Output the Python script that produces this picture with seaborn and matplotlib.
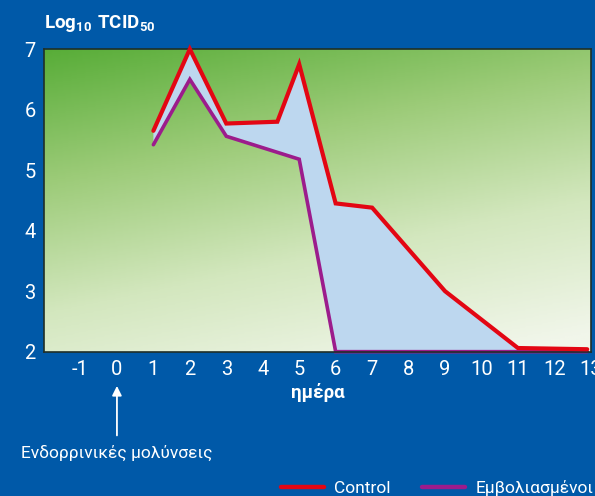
import matplotlib
matplotlib.use("Agg")
import matplotlib.pyplot as plt
from matplotlib.colors import LinearSegmentedColormap
import seaborn as sns
import numpy as np
import pandas as pd

# Δεδομένα (τιμές από το γράφημα)
control_days = [1, 2, 3, 4.4, 5, 6, 7, 9, 11, 12.9]
control_vals = [5.65, 7.0, 5.77, 5.8, 6.75, 4.45, 4.38, 3.0, 2.06, 2.04]
vacc_days = [1, 2, 3, 5, 6, 12.9]
vacc_vals = [5.42, 6.5, 5.56, 5.18, 2.0, 2.0]
x_ticks = list(range(-1, 14))
y_ticks = [2, 3, 4, 5, 6, 7]

BLUE = "#0059A8"
RED = "#E30613"
PURPLE = "#9C1C8C"
FILL = "#BDD7EF"

sns.set_style("white")
plt.rcParams["font.family"] = ["Roboto", "DejaVu Sans"]
plt.rcParams["mathtext.fontset"] = "custom"
plt.rcParams["mathtext.bf"] = "Roboto:bold"
plt.rcParams["mathtext.rm"] = "Roboto"

fig = plt.figure(figsize=(5.95, 4.96), dpi=100, facecolor=BLUE)
ax = fig.add_axes([0.074, 0.291, 0.919, 0.610])

# φόντο με διαβάθμιση
cmap = LinearSegmentedColormap.from_list("bg", ["#58AD38", "#9CCB78", "#D3E7BE", "#F1F6EA"])
vv, hh = np.mgrid[0:1:200j, 0:1:200j]
grad = 0.8 * vv + 0.3 * hh
ax.imshow(grad, cmap=cmap, extent=[-2, 13, 2, 7], aspect="auto", origin="upper",
          zorder=0, vmin=0, vmax=1.05)

# σκιασμένη περιοχή ανάμεσα στις δύο καμπύλες
px = control_days + vacc_days[::-1]
py = control_vals + vacc_vals[::-1]
ax.fill(px, py, color=FILL, zorder=1, lw=0)

df_c = pd.DataFrame({"day": control_days, "val": control_vals})
df_v = pd.DataFrame({"day": vacc_days, "val": vacc_vals})
sns.lineplot(data=df_c, x="day", y="val", color=RED, lw=3.0, label="Control",
             ax=ax, clip_on=False, zorder=3, solid_joinstyle="miter")
sns.lineplot(data=df_v, x="day", y="val", color=PURPLE, lw=2.6, label="Εμβολιασμένοι",
             ax=ax, clip_on=False, zorder=2, solid_joinstyle="miter")

ax.set_xlim(-2, 13)
ax.set_ylim(2, 7)
ax.set_xticks(x_ticks)
ax.set_xticklabels([str(t) for t in x_ticks])
ax.set_yticks(y_ticks)
ax.set_axisbelow(True)
ax.tick_params(direction="in", length=11, width=1.1, color="#243524",
               labelcolor="white", labelsize=14.5, pad=6)
for s in ax.spines.values():
    s.set_color("#1f2f28")
    s.set_linewidth(1.2)
    s.set_visible(True)

ax.set_xlabel("ημέρα", color="white", fontsize=13.5, fontweight="bold", labelpad=3)
ax.set_ylabel("")
ax.get_legend().remove()

fig.text(0.074, 0.953, r"$\mathbf{Log_{10}\ TCID_{50}}$", color="white", fontsize=13.5,
         ha="left", va="center")

# βέλος μόλυνσης στην ημέρα 0
ax.annotate("", xy=(0, 1.48), xytext=(0, 0.57), xycoords="data",
            annotation_clip=False,
            arrowprops=dict(arrowstyle="-|>", color="white", lw=1.3, mutation_scale=14))
ax.text(0, 0.32, "Ενδορρινικές μολύνσεις", color="white", fontsize=12.5,
        ha="center", va="center", clip_on=False)

handles, labels = ax.get_legend_handles_labels()
leg = fig.legend(handles, labels, loc="lower right", bbox_to_anchor=(1.004, -0.008),
                 ncol=2, frameon=False, fontsize=12.5, labelcolor="white",
                 handlelength=2.5, handletextpad=0.6, columnspacing=1.8,
                 borderaxespad=0, borderpad=0.2)
for h in leg.legend_handles:
    h.set_linewidth(3.2)

fig.savefig("out.png", dpi=100, facecolor=BLUE)
